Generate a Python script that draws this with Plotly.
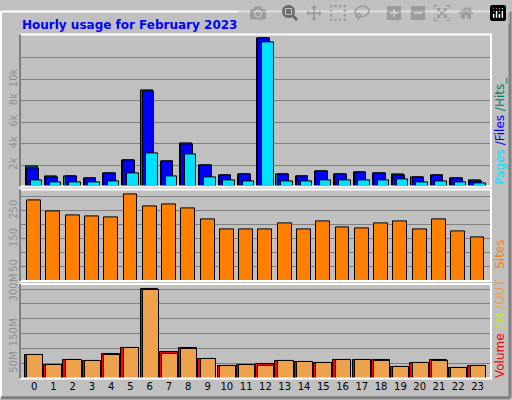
import plotly.graph_objects as go

hours = list(range(24))
hits = [1850, 940, 940, 760, 1210, 2480, 8940, 2300, 4030, 1940, 1030, 1120,
        13850, 1120, 940, 1390, 1120, 1300, 1210, 1120, 850, 1030, 760, 575]
files = [1730, 850, 940, 730, 1210, 2480, 8850, 2300, 3940, 1940, 1030, 1120,
         13820, 1120, 940, 1390, 1120, 1300, 1210, 1030, 850, 1030, 760, 515]
pages = [575, 390, 390, 390, 485, 1210, 3120, 940, 3030, 850, 575, 485,
         13480, 485, 485, 575, 575, 575, 575, 670, 390, 485, 390, 300]
sites = [287, 248, 234, 230, 227, 307, 265, 272, 258, 220, 182, 185,
         182, 206, 182, 213, 192, 189, 206, 213, 185, 220, 175, 154]
volume = [78, 46, 61, 58, 81, 101, 301, 88, 101, 64, 41, 46,
          48, 58, 54, 51, 61, 61, 61, 38, 51, 61, 34, 41]
traffic_out = [78, 46, 61, 58, 78, 101, 298, 84, 98, 64, 41, 46,
               41, 58, 54, 51, 61, 61, 58, 38, 51, 58, 34, 41]

BG = "#c0c0c0"
GRID = "#808080"
TICK = "#909090"

fig = go.Figure()
line = dict(color="black", width=1)

def shifted(off):
    return [h + off for h in hours]

fig.add_trace(go.Bar(x=shifted(-0.12), y=hits, width=0.62, marker=dict(color="#00805c", line=line),
                     xaxis="x", yaxis="y"))
fig.add_trace(go.Bar(x=shifted(-0.07), y=files, width=0.6, marker=dict(color="#0000ff", line=line),
                     xaxis="x", yaxis="y"))
fig.add_trace(go.Bar(x=shifted(0.12), y=pages, width=0.6, marker=dict(color="#00e0ff", line=line),
                     xaxis="x", yaxis="y"))
fig.add_trace(go.Bar(x=hours, y=sites, width=0.72, marker=dict(color="#ff8000", line=line),
                     xaxis="x2", yaxis="y2"))
fig.add_trace(go.Bar(x=shifted(-0.02), y=volume, width=0.92, marker=dict(color="#ff0000", line=line),
                     xaxis="x3", yaxis="y3"))
fig.add_trace(go.Bar(x=shifted(0.05), y=traffic_out, width=0.82, marker=dict(color="#eea24e", line=line),
                     xaxis="x3", yaxis="y3"))

xr = [-0.73, 23.7]
xd = [20 / 512, 491 / 512]
common_x = dict(range=xr, domain=xd, showgrid=False, zeroline=False, fixedrange=True)
ytick = dict(tickangle=-90, tickfont=dict(family="DejaVu Sans", size=10, color=TICK),
             gridcolor=GRID, zeroline=False, ticks="", showline=False)

fig.update_layout(
    width=512, height=400, margin=dict(l=0, r=0, t=0, b=0),
    paper_bgcolor=BG, plot_bgcolor=BG, showlegend=False, barmode="overlay",
    bargap=0,
    xaxis=dict(**common_x, anchor="y", showticklabels=False),
    xaxis2=dict(**common_x, anchor="y2", showticklabels=False),
    xaxis3=dict(**common_x, anchor="y3", tickmode="array", tickvals=hours,
                ticktext=[str(h) for h in hours], ticks="",
                tickfont=dict(family="DejaVu Sans", size=10, color="black")),
    yaxis=dict(**ytick, domain=[0.5475, 0.9375], range=[0, 14200],
               tickvals=[2000, 4000, 6000, 8000, 10000, 12000],
               ticktext=["2k", "4k", "6k", "8k", "10k", ""]),
    yaxis2=dict(**ytick, domain=[0.305, 0.54], range=[0, 326],
                tickvals=[50, 100, 150, 200, 250, 300],
                ticktext=["50", "", "150", "", "250", ""]),
    yaxis3=dict(**ytick, domain=[0.055, 0.2975], range=[0, 317],
                tickvals=[50, 100, 150, 200, 250, 300],
                ticktext=["50M", "", "150M", "", "", "300M"]),
)

# panel frames
for y0, y1 in [(0.5475, 0.9375), (0.305, 0.54), (0.055, 0.2975)]:
    fig.add_shape(type="rect", xref="paper", yref="paper", x0=xd[0], x1=xd[1], y0=y0, y1=y1,
                  line=dict(color="white", width=2))
    fig.add_shape(type="line", xref="paper", yref="paper", x0=xd[0], x1=xd[0], y0=y0, y1=y1,
                  line=dict(color="black", width=1))

# outer bevel
fig.add_shape(type="line", xref="paper", yref="paper", x0=0.002, x1=0.996, y0=0.996, y1=0.996,
              line=dict(color="white", width=2))
fig.add_shape(type="line", xref="paper", yref="paper", x0=0.002, x1=0.002, y0=0.006, y1=0.996,
              line=dict(color="white", width=2))
fig.add_shape(type="line", xref="paper", yref="paper", x0=0.002, x1=0.996, y0=0.006, y1=0.006,
              line=dict(color="#808080", width=3))
fig.add_shape(type="line", xref="paper", yref="paper", x0=0.996, x1=0.996, y0=0.006, y1=0.996,
              line=dict(color="#808080", width=3))

fig.add_annotation(text="<b>Hourly usage for February 2023</b>", xref="paper", yref="paper",
                   x=20 / 512, y=1 - 15 / 400, xanchor="left", yanchor="middle", showarrow=False,
                   font=dict(family="DejaVu Sans", size=12, color="#0000ff"))

side = [
    ("<span style='color:#00e0ff'>Pages</span> <span style='color:#0000ff'>/Files</span>"
     " <span style='color:#00805c'>/Hits_</span>", 0.5475),
    ("<span style='color:#ff8000'>Sites</span>", 0.33),
    ("<span style='color:#ff0000'>Volume</span> <span style='color:#c8e03c'>/IN</span>"
     " <span style='color:#eea24e'>/OUT</span>", 0.05),
]
for text, ybot in side:
    fig.add_annotation(text=text, xref="paper", yref="paper", x=500 / 512, y=ybot,
                       xanchor="center", yanchor="bottom", textangle=-90, showarrow=False,
                       font=dict(family="DejaVu Sans", size=12))

fig.write_html("out.html", post_script="document.body.style.margin='0';")
